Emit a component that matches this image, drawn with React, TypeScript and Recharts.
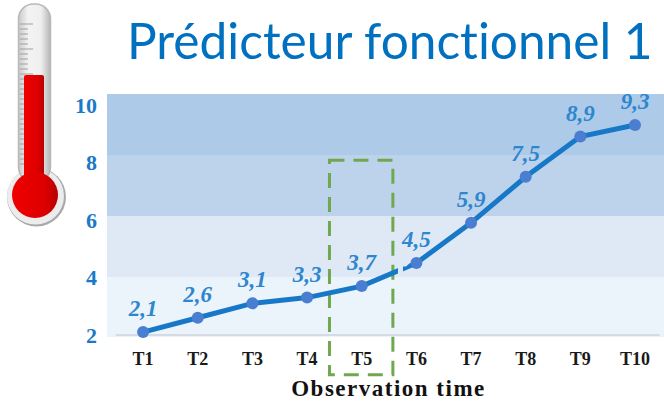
import React from "react";
import { ComposedChart, Line, XAxis, YAxis, ReferenceArea, ReferenceLine, LabelList } from "recharts";

const categories = ["T1", "T2", "T3", "T4", "T5", "T6", "T7", "T8", "T9", "T10"];
const positions = [1, 2, 3, 4, 5, 6, 7, 8, 9, 10];
const values = [2.1, 2.6, 3.1, 3.3, 3.7, 4.5, 5.9, 7.5, 8.9, 9.3];
const pointLabels = ["2,1", "2,6", "3,1", "3,3", "3,7", "4,5", "5,9", "7,5", "8,9", "9,3"];
const yTicks = [2, 4, 6, 8, 10];
const bandEdges = [1.93, 4.02, 6.14, 8.26, 10.38];
const bandColors = ["#EBF3FB", "#DEE9F5", "#BDD3EB", "#ADCBE8"];
const highlight = { x1: 4.41, x2: 5.57, y1: 0.62, y2: 8.08 };

const rows = categories.map((c, i) => ({ pos: positions[i], category: c, value: values[i], label: pointLabels[i] }));

const serif = "'Liberation Serif', serif";
const thermoTicks = Array.from({ length: 29 }, (_, i) => i);

function Thermometer() {
  return (
    <svg width={70} height={230} style={{ position: "absolute", left: 0, top: 0 }}>
      <defs>
        <linearGradient id="glass" x1="0" x2="1" y1="0" y2="0">
          <stop offset="0" stopColor="#c9c9c9" />
          <stop offset="0.3" stopColor="#f3f3f3" />
          <stop offset="0.7" stopColor="#efefef" />
          <stop offset="1" stopColor="#b5b5b5" />
        </linearGradient>
        <linearGradient id="red" x1="0" x2="1" y1="0" y2="0">
          <stop offset="0" stopColor="#f00000" />
          <stop offset="0.7" stopColor="#dd0000" />
          <stop offset="1" stopColor="#b80000" />
        </linearGradient>
      </defs>
      <circle cx={36.5} cy={197} r={29.5} fill="#a9a9a9" />
      <circle cx={35.5} cy={196} r={28.5} fill="#ececec" />
      <rect x={18.5} y={4} width={32} height={178} rx={15} fill="url(#glass)" stroke="#b8b8b8" strokeWidth={1.5} />
      {thermoTicks.map((i) => (
        <line key={i} x1={20} x2={i % 5 === 0 ? 33 : 28} y1={24 + i * 5} y2={24 + i * 5} stroke="#a0a0a0" strokeWidth={1} />
      ))}
      <rect x={24} y={75} width={20} height={110} rx={2} fill="url(#red)" />
      <circle cx={35} cy={195} r={23} fill="url(#red)" />
    </svg>
  );
}

export default function App() {
  return (
    <div style={{ position: "absolute", left: 0, top: 0, width: 664, height: 404, background: "#fff" }}>
      <ComposedChart width={664} height={404} data={rows} margin={{ top: 94, right: 0, bottom: 0, left: 0 }}>
        <XAxis
          dataKey="pos"
          type="number"
          domain={[0.34, 10.53]}
          ticks={positions}
          tickFormatter={(v: number) => categories[v - 1]}
          axisLine={false}
          tickLine={false}
          height={67}
          tickMargin={9}
          interval={0}
          tick={{ fontFamily: serif, fontWeight: 700, fontSize: 18, fill: "#1a1a1a" }}
          label={{
            value: "Observation time",
            position: "insideBottom",
            offset: 8,
            dx: 3,
            style: { fontFamily: serif, fontWeight: 700, fontSize: 23, fill: "#111", letterSpacing: 1.5 },
          }}
        />
        <YAxis
          type="number"
          domain={[bandEdges[0], bandEdges[4]]}
          ticks={yTicks}
          width={107}
          axisLine={false}
          tickLine={false}
          tickMargin={4}
          interval={0}
          tick={{ fontFamily: serif, fontWeight: 700, fontSize: 22, fill: "#1B7AC8" }}
        />
        {bandColors.map((c, i) => (
          <ReferenceArea key={c} y1={bandEdges[i]} y2={bandEdges[i + 1]} fill={c} fillOpacity={1} stroke="none" ifOverflow="visible" />
        ))}
        <ReferenceLine
          segment={[{ x: 0.5, y: 2 }, { x: 10.45, y: 2 }]}
          stroke="#CDD3DE"
          strokeWidth={1.5}
          ifOverflow="visible"
        />
        <ReferenceArea
          x1={highlight.x1}
          x2={highlight.x2}
          y1={highlight.y1}
          y2={highlight.y2}
          fill="none"
          stroke="#6FA84F"
          strokeWidth={3}
          strokeDasharray="15 9"
          ifOverflow="visible"
        />
        <Line
          dataKey="value"
          stroke="#1878C8"
          strokeWidth={5}
          type="linear"
          isAnimationActive={false}
          dot={{ r: 6, fill: "#4A7ED0", stroke: "none" }}
          activeDot={false}
        >
          <LabelList
            dataKey="label"
            position="top"
            offset={16}
            style={{ fontFamily: serif, fontWeight: 700, fontStyle: "italic", fontSize: 23, fill: "#2E86CF" }}
          />
        </Line>
      </ComposedChart>
      <svg width={664} height={404} style={{ position: "absolute", left: 0, top: 0, pointerEvents: "none" }}>
        <polygon points="398,262 411,262 406,266.5 403,266.5 403,275 398,275" fill="#DEE9F5" />
      </svg>
      <Thermometer />
      <div
        style={{
          position: "absolute",
          left: 127,
          top: 8,
          fontFamily: "Lato, sans-serif",
          fontSize: 49.6,
          lineHeight: "64px",
          color: "#0070C0",
          whiteSpace: "nowrap",
          fontVariantLigatures: "none",
        }}
      >
        Prédicteur fonctionnel 1
      </div>
    </div>
  );
}
